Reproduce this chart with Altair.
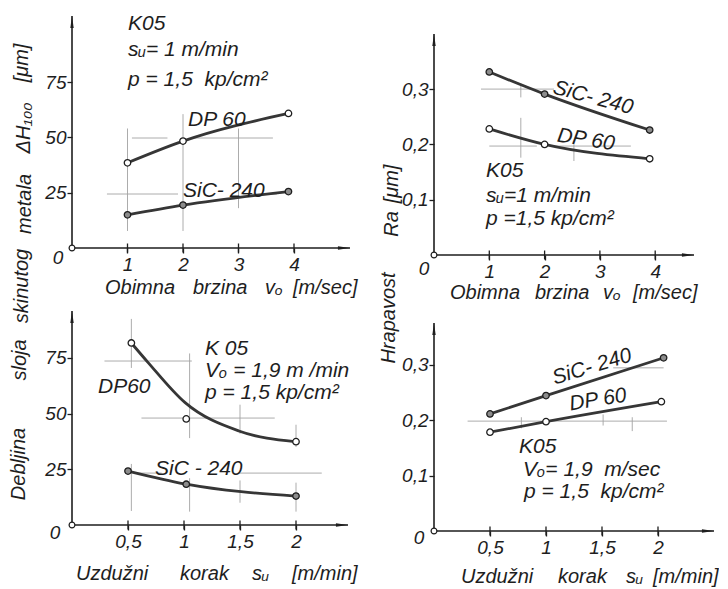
import altair as alt
import pandas as pd

FONT = "Liberation Sans"
INK = "#1e1e1e"
CURVE = "#363636"
GUIDE = "#a3a3a3"
SIC_FILL = "#8c8c8c"
DP_FILL = "white"

# ---------------- data ----------------
# top-left: removed layer thickness [um] vs circumferential speed v0 [m/sec]
tl_speed = [1.0, 2.0, 3.9]
tl_dp60 = [38.5, 48.3, 60.8]
tl_sic = [15.0, 19.4, 25.5]

# top-right: roughness Ra [um] vs circumferential speed v0 [m/sec]
tr_speed = [1.0, 2.0, 3.9]
tr_sic = [0.331, 0.291, 0.226]
tr_dp60 = [0.228, 0.200, 0.174]

# bottom-left: removed layer thickness [um] vs longitudinal feed su [m/min]
bl_feed_dp60 = [0.53, 1.02, 2.0]
bl_dp60 = [81.7, 47.6, 37.4]
bl_curve_feed = [0.53, 0.68, 1.01, 1.49, 1.99]
bl_curve_dp60 = [81.7, 72.9, 54.9, 42.2, 37.4]
bl_feed_sic = [0.5, 1.02, 2.0]
bl_sic = [24.2, 18.3, 13.0]

# bottom-right: roughness Ra [um] vs longitudinal feed su [m/min]
br_feed_sic = [0.5, 1.0, 2.05]
br_sic = [0.211, 0.244, 0.312]
br_feed_dp60 = [0.5, 1.0, 2.03]
br_dp60 = [0.178, 0.197, 0.233]

# tick values
tl_xticks = [1, 2, 3, 4]
tl_yticks = [25, 50, 75]
tr_xticks = [1, 2, 3, 4]
tr_yticks = [0.1, 0.2, 0.3]
bl_xticks = [0.5, 1, 1.5, 2]
bl_yticks = [25, 50, 75]
br_xticks = [0.5, 1, 1.5, 2]
br_yticks = [0.1, 0.2, 0.3]

# faint construction lines (x1, x2, y1, y2)
tl_guides = [
    (1.08, 1.72, 49.7, 49.7), (2.16, 3.62, 49.7, 49.7),
    (1.0, 1.0, 7.7, 54.0), (2.0, 2.0, 7.7, 60.5), (3.0, 3.0, 18.0, 54.0),
    (0.63, 1.91, 24.4, 24.4), (3.08, 3.69, 24.4, 24.4),
]
tr_guides = [
    (0.85, 2.17, 0.30, 0.30), (1.57, 1.57, 0.285, 0.31),
    (1.57, 1.57, 0.176, 0.248), (1.0, 1.86, 0.197, 0.197),
    (2.1, 3.56, 0.197, 0.197), (2.53, 2.53, 0.17, 0.20),
]
bl_guides = [
    (0.53, 0.53, 70.5, 92.5), (0.53, 0.53, 6.3, 27.4),
    (0.29, 1.07, 73.6, 73.6), (1.05, 1.05, 39.0, 77.0), (1.05, 1.05, 6.0, 21.0),
    (0.62, 1.81, 48.0, 48.0), (1.5, 1.5, 41.0, 54.0), (1.5, 1.5, 10.0, 20.0),
    (1.48, 2.23, 23.3, 23.3), (0.59, 0.8, 23.3, 23.3),
    (2.0, 2.0, 35.0, 45.0), (2.0, 2.0, 6.0, 19.0),
]
br_guides = [
    (0.3, 2.08, 0.198, 0.198), (1.6, 2.05, 0.294, 0.294),
    (1.51, 1.51, 0.19, 0.21), (1.77, 1.77, 0.18, 0.205),
    (0.78, 0.78, 0.185, 0.205),
]

# ---------------- layout (plot-area top-left corners on the page) ----------------
TL_O = (72, 15)
TR_O = (434, 15)
BL_O = (72, 310)
BR_O = (432, 310)

UP_ARROW = "M0,0L0.32,2.3L-0.32,2.3Z"
RIGHT_ARROW = "M0,0L-2.3,0.32L-2.3,-0.32Z"
NB = "\u00a0"
ANN = 21   # annotation font size
TTL = 20   # axis title font size


def text_layers(items, origin):
    ox, oy = origin
    one = pd.DataFrame({"k": [0]})
    out = []
    for (t, X, Y, align, angle, size) in items:
        kw = dict(align=align, baseline="middle", font=FONT, fontStyle="italic",
                  fontSize=size, color=INK)
        if angle:
            kw["angle"] = angle % 360
        out.append(alt.Chart(one).mark_text(**kw).encode(
            x=alt.value(X - ox), y=alt.value(Y - oy), text=alt.value(t)))
    return out


def panel(w, h, xmax, ymax, ytop, xticks, yticks, lines, points, guides, texts, origin):
    xsc = alt.Scale(domain=[0, xmax], nice=False, zero=False)
    ysc = alt.Scale(domain=[0, ymax], nice=False, zero=False)
    common = dict(domain=False, grid=False, title=None, ticks=True, tickSize=5,
                  tickWidth=1.3, tickColor=INK, labelFont=FONT, labelFontSize=19,
                  labelFontStyle="italic", labelColor=INK,
                  labelExpr="replace(toString(datum.value), '.', ',')",
                  labelOverlap=False, labelFlush=False)
    X = alt.X("x:Q", scale=xsc, axis=alt.Axis(values=xticks, labelPadding=2, **common))
    Y = alt.Y("y:Q", scale=ysc, axis=alt.Axis(values=yticks, labelPadding=1, **common))
    layers = []
    g = pd.DataFrame(guides, columns=["x", "x2", "y", "y2"])
    layers.append(alt.Chart(g).mark_rule(color=GUIDE, strokeWidth=0.9).encode(
        x=X, x2="x2:Q", y=Y, y2="y2:Q"))
    ax = pd.DataFrame({"x": [0, 0], "x2": [xmax, 0], "y": [0, 0], "y2": [0, ytop]})
    layers.append(alt.Chart(ax).mark_rule(color=INK, strokeWidth=1.6).encode(
        x=X, x2="x2:Q", y=Y, y2="y2:Q"))
    # crossing tick marks on the horizontal axis
    tk = pd.DataFrame({"x": xticks, "y": [0] * len(xticks)})
    layers.append(alt.Chart(tk).mark_tick(orient="vertical", size=9, thickness=1.3,
                                          color=INK, opacity=1).encode(x=X, y=Y))
    arr = pd.DataFrame({"x": [xmax, 0], "y": [0, ytop], "d": ["right", "up"]})
    layers.append(alt.Chart(arr).mark_point(filled=True, color=INK, size=110, opacity=1).encode(
        x=X, y=Y,
        shape=alt.Shape("d:N", scale=alt.Scale(domain=["right", "up"],
                                               range=[RIGHT_ARROW, UP_ARROW]), legend=None)))
    for (xs, ys) in lines:
        d = pd.DataFrame({"x": xs, "y": ys})
        layers.append(alt.Chart(d).mark_line(interpolate="monotone", color=CURVE,
                                             strokeWidth=2.8).encode(x=X, y=Y))
    for (xs, ys, fill) in points:
        d = pd.DataFrame({"x": xs, "y": ys})
        layers.append(alt.Chart(d).mark_point(shape="circle", filled=True, fill=fill,
                                              stroke=INK, strokeWidth=1.3, size=42,
                                              opacity=1).encode(x=X, y=Y))
    o = pd.DataFrame({"x": [0], "y": [0]})
    layers.append(alt.Chart(o).mark_point(shape="circle", filled=True, fill="white",
                                          stroke=INK, strokeWidth=1.2, size=34,
                                          opacity=1).encode(x=X, y=Y))
    layers += text_layers(texts, origin)
    return alt.layer(*layers).properties(width=w, height=h)


tl_texts = [
    ("K05", 128, 23, "left", 0, ANN),
    ("s\u1d64= 1 m/min", 128, 49, "left", 0, ANN),
    ("p = 1,5" + NB + " kp/cm\u00b2", 128, 79, "left", 0, ANN),
    ("DP 60", 188, 119, "left", 0, ANN),
    ("SiC-" + NB + "240", 183, 190, "left", 0, ANN),
    ("0", 58, 257, "center", 0, 19),
    ("Obimna", 105, 287, "left", 0, TTL),
    ("brzina", 193, 287, "left", 0, TTL),
    ("v\u2092", 265, 287, "left", 0, TTL),
    ("[m/sec]", 293, 287, "left", 0, TTL),
    ("[\u03bcm]", 22, 62, "center", 270, TTL),
    ("\u0394H\u2081\u2080\u2080", 24, 127, "center", 270, TTL),
    ("metala", 25, 203, "center", 270, TTL),
    ("skinutog", 22, 285, "center", 270, TTL),
    ("sloja", 20, 359, "center", 270, TTL),
    ("Debljina", 19, 463, "center", 270, TTL),
]
tr_texts = [
    ("SiC-" + NB + "240", 593, 97, "center", 15, ANN),
    ("DP 60", 586, 139, "center", 9, ANN),
    ("K05", 486, 170, "left", 0, ANN),
    ("s\u1d64=1 m/min", 486, 195, "left", 0, ANN),
    ("p =1,5 kp/cm\u00b2", 486, 218, "left", 0, ANN),
    ("0", 424, 268, "center", 0, 19),
    ("Obimna", 450, 292, "left", 0, TTL),
    ("brzina", 535, 292, "left", 0, TTL),
    ("v\u2092", 603, 292, "left", 0, TTL),
    ("[m/sec]", 633, 292, "left", 0, TTL),
    ("[\u03bcm]", 392, 183, "center", 270, TTL),
    ("Ra", 392, 223, "center", 270, TTL),
    ("Hrapavost", 389, 317, "center", 270, TTL),
]
bl_texts = [
    ("K 05", 205, 348, "left", 0, ANN),
    ("V\u2092 = 1,9 m /min", 205, 370, "left", 0, ANN),
    ("p = 1,5 kp/cm\u00b2", 205, 392, "left", 0, ANN),
    ("DP60", 98, 386, "left", 0, ANN),
    ("SiC - 240", 155, 468, "left", 0, ANN),
    ("0", 55, 532, "center", 0, 19),
    ("Uzdu\u017eni", 76, 573, "left", 0, TTL),
    ("korak", 180, 573, "left", 0, TTL),
    ("s\u1d64", 252, 573, "left", 0, TTL),
    ("[m/min]", 292, 573, "left", 0, TTL),
]
br_texts = [
    ("SiC-" + NB + "240", 590, 366, "center", 343, ANN),
    ("DP 60", 596, 399, "center", 351, ANN),
    ("K05", 517, 446, "left", 0, ANN),
    ("V\u2092= 1,9" + NB + " m/sec", 521, 469, "left", 0, ANN),
    ("p = 1,5" + NB + " kp/cm\u00b2", 522, 491, "left", 0, ANN),
    ("0", 417, 537, "center", 0, 19),
    ("Uzdu\u017eni", 459, 576, "left", 0, TTL),
    ("korak", 556, 576, "left", 0, TTL),
    ("s\u1d64", 624, 576, "left", 0, TTL),
    ("[m/min]", 651, 576, "left", 0, TTL),
]

tl = panel(278, 232, 278 / 55.5, 232 / 2.213, 232 / 2.213, tl_xticks, tl_yticks,
           [(tl_speed, tl_dp60), (tl_speed, tl_sic)],
           [(tl_speed, tl_dp60, DP_FILL), (tl_speed, tl_sic, SIC_FILL)],
           tl_guides, tl_texts, TL_O)
tr = panel(260, 239, 260 / 55.3, 239 / 553.0, 221 / 553.0, tr_xticks, tr_yticks,
           [(tr_speed, tr_sic), (tr_speed, tr_dp60)],
           [(tr_speed, tr_sic, SIC_FILL), (tr_speed, tr_dp60, DP_FILL)],
           tr_guides, tr_texts, TR_O)
bl = panel(276, 214, 276 / 112.0, 214 / 2.228, 214 / 2.228, bl_xticks, bl_yticks,
           [(bl_curve_feed, bl_curve_dp60), (bl_feed_sic, bl_sic)],
           [(bl_feed_dp60, bl_dp60, DP_FILL), (bl_feed_sic, bl_sic, SIC_FILL)],
           bl_guides, bl_texts, BL_O)
br = panel(280, 220, 280 / 112.0, 220 / 555.0, 208 / 555.0, br_xticks, br_yticks,
           [(br_feed_sic, br_sic), (br_feed_dp60, br_dp60)],
           [(br_feed_sic, br_sic, SIC_FILL), (br_feed_dp60, br_dp60, DP_FILL)],
           br_guides, br_texts, BR_O)

chart = alt.concat(tl, tr, bl, br, columns=2, spacing={"row": 56, "column": 84}).properties(
    bounds="flush", align="none",
    padding={"left": 1, "top": 5, "right": 0, "bottom": 0},
).configure_view(strokeWidth=0)

chart.save("out.html", embed_options={"renderer": "svg", "actions": False})
